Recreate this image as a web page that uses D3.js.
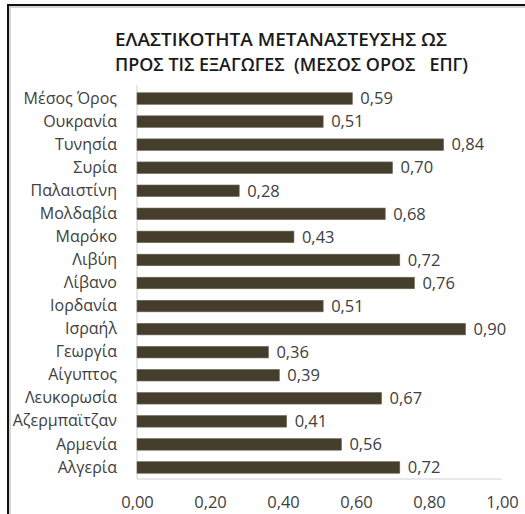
<!DOCTYPE html>
<html>
<head>
<meta charset="utf-8">
<script src="https://cdn.jsdelivr.net/npm/d3@7"></script>
<style>
  body { margin: 0; background: #fff; }
</style>
</head>
<body>
<div id="chart"></div>
<script>
const countries = ['Μέσος Όρος', 'Ουκρανία', 'Τυνησία', 'Συρία', 'Παλαιστίνη', 'Μολδαβία', 'Μαρόκο',
    'Λιβύη', 'Λίβανο', 'Ιορδανία', 'Ισραήλ', 'Γεωργία', 'Αίγυπτος', 'Λευκορωσία', 'Αζερμπαϊτζαν',
    'Αρμενία', 'Αλγερία'];
const values = [0.59, 0.51, 0.84, 0.70, 0.28, 0.68, 0.43, 0.72, 0.76, 0.51, 0.90, 0.36, 0.39, 0.67,
    0.41, 0.56, 0.72];
const ticks = [0, 0.2, 0.4, 0.6, 0.8, 1.0];
const titleLines = ['ΕΛΑΣΤΙΚΟΤΗΤΑ ΜΕΤΑΝΑΣΤΕΥΣΗΣ ΩΣ', 'ΠΡΟΣ ΤΙΣ ΕΞΑΓΩΓΕΣ  (ΜΕΣΟΣ ΟΡΟΣ   ΕΠΓ)'];

const width = 525;
const height = 514;
const margin = {top: 87, bottom: 35, left: 137, right: 23};
const font = '"Open Sans", "Noto Sans", sans-serif';
const fmt = v => d3.format('.2f')(v).replace('.', ',');

const svg = d3.select('#chart')
    .append('svg')
    .attr('width', width)
    .attr('height', height)
    .style('font-family', font);

// frame
svg.append('rect')
    .attr('x', 10).attr('y', 7)
    .attr('width', 530).attr('height', 520)
    .attr('fill', 'none')
    .attr('stroke', '#c8c8c8')
    .attr('stroke-width', 1.5);
svg.append('rect')
    .attr('x', 8).attr('y', 5)
    .attr('width', 530).attr('height', 520)
    .attr('fill', 'none')
    .attr('stroke', '#111')
    .attr('stroke-width', 2);

const x = d3.scaleLinear()
    .domain([0, 1])
    .range([margin.left, width - margin.right]);

const y = d3.scaleBand()
    .domain(countries)
    .range([margin.top, height - margin.bottom])
    .paddingInner(0.5)
    .paddingOuter(0.25);

// title
svg.append('g')
    .selectAll('text')
    .data(titleLines)
    .join('text')
        .attr('x', 115)
        .attr('y', (d, i) => 46 + i * 25)
        .attr('fill', '#1a1a1a')
        .attr('font-size', '18px')
        .attr('font-weight', 600)
        .attr('textLength', (d, i) => i === 0 ? 332 : 353)
        .attr('lengthAdjust', 'spacingAndGlyphs')
        .style('white-space', 'pre')
        .text(d => d);

// axis lines
svg.append('line')
    .attr('x1', x(0)).attr('x2', x(0))
    .attr('y1', margin.top - 2).attr('y2', height - margin.bottom)
    .attr('stroke', '#d0d0d0');
svg.append('line')
    .attr('x1', x(0)).attr('x2', x(1))
    .attr('y1', height - margin.bottom).attr('y2', height - margin.bottom)
    .attr('stroke', '#d0d0d0');

svg.append('g')
    .attr('fill', '#463e2c')
    .selectAll('rect')
    .data(values)
    .join('rect')
        .attr('x', x(0))
        .attr('y', (d, i) => y(countries[i]))
        .attr('width', d => x(d) - x(0))
        .attr('height', y.bandwidth())
        .attr('stroke', '#6b6450')
        .attr('stroke-width', 0.6);

// value labels
svg.append('g')
    .selectAll('text')
    .data(values)
    .join('text')
        .attr('x', d => x(d) + 8)
        .attr('y', (d, i) => y(countries[i]) + y.bandwidth() / 2)
        .attr('dy', '0.35em')
        .attr('fill', '#404040')
        .attr('font-size', '16.5px')
        .text(d => fmt(d));

// category axis
const yAxis = g => g
    .attr('transform', `translate(${margin.left - 6},0)`)
    .call(d3.axisLeft(y).tickSize(0).tickPadding(14))
    .call(g => g.select('.domain').remove())
    .selectAll('text')
        .attr('fill', '#404040')
        .attr('font-size', '16px')
        .attr('font-family', font);

const xAxis = g => g
    .attr('transform', `translate(0,${height - margin.bottom})`)
    .call(d3.axisBottom(x).tickValues(ticks).tickFormat(fmt).tickSize(0).tickPadding(17))
    .call(g => g.select('.domain').remove())
    .selectAll('text')
        .attr('fill', '#404040')
        .attr('font-size', '16.5px')
        .attr('font-family', font);

svg.append('g').call(yAxis);
svg.append('g').call(xAxis);
</script>
</body>
</html>
